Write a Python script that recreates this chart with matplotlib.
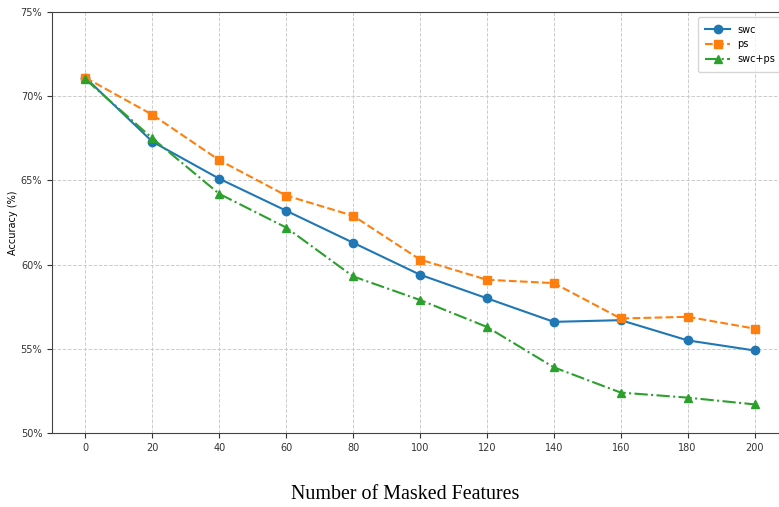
import matplotlib
matplotlib.use("Agg")
import matplotlib.pyplot as plt
from matplotlib.ticker import PercentFormatter

masked = [0, 20, 40, 60, 80, 100, 120, 140, 160, 180, 200]
swc = [71.1, 67.3, 65.1, 63.2, 61.3, 59.4, 58.0, 56.6, 56.7, 55.5, 54.9]
ps = [71.1, 68.9, 66.2, 64.1, 62.9, 60.3, 59.1, 58.9, 56.8, 56.9, 56.2]
swc_ps = [71.0, 67.5, 64.2, 62.2, 59.3, 57.9, 56.3, 53.9, 52.4, 52.1, 51.7]

fig = plt.figure(figsize=(7.79, 5.07), dpi=100)
ax = fig.add_axes([52 / 779, 1 - 433 / 507, 736 / 779, (433 - 12) / 507])

ax.plot(masked, swc, "-o", color="#1f77b4", label="swc", markersize=6, linewidth=1.5)
ax.plot(masked, ps, "--s", color="#ff7f0e", label="ps", markersize=6, linewidth=1.5)
ax.plot(masked, swc_ps, "-.^", color="#2ca02c", label="swc+ps", markersize=6, linewidth=1.5)

ax.set_xlim(-10, 210)
ax.set_ylim(50, 75)
ax.set_xticks(masked)
ax.set_yticks([50, 55, 60, 65, 70, 75])
ax.yaxis.set_major_formatter(PercentFormatter(decimals=0))
ax.tick_params(labelsize=7, length=3.5, colors="#333333")
ax.grid(True, linestyle="--", linewidth=0.7, color="#cccccc")
for s in ax.spines.values():
    s.set_color("#444444")
ax.set_ylabel("Accuracy (%)", fontsize=7)
ax.yaxis.set_label_coords(-34 / 736, 0.5)

ax.legend(loc="upper right", fontsize=7, handlelength=2.5, borderpad=0.8)

# caption under the plot
fig.text(0.52, 0.006, "Number of Masked Features", ha="center", va="bottom",
         fontsize=14.4, family="Liberation Serif")

fig.savefig("out.png", dpi=100)
